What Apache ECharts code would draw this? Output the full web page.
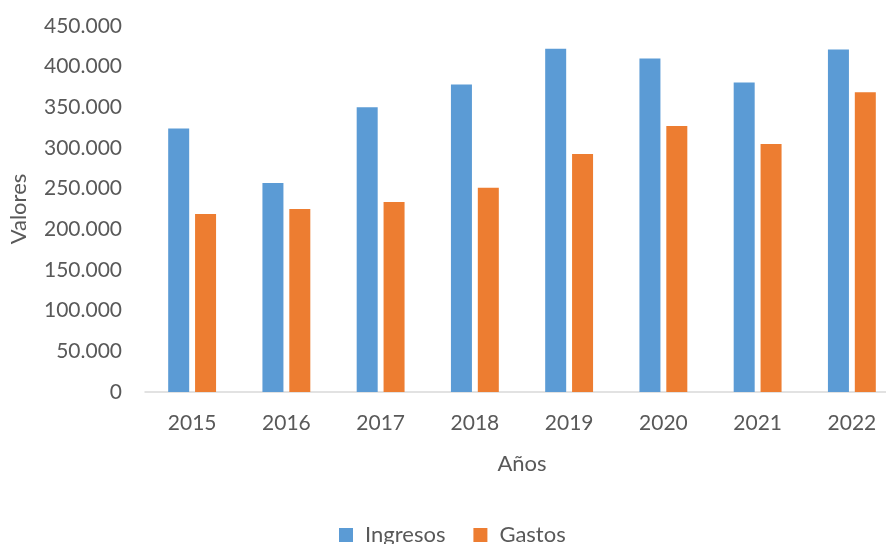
<!DOCTYPE html>
<html>
<head>
<meta charset="utf-8">
<script src="https://cdn.jsdelivr.net/npm/echarts@6/dist/echarts.min.js"></script>
<style>
  html, body { margin: 0; padding: 0; background: #fff; overflow: hidden; }
  /* the plot runs a little past the right edge of the window */
  #chart { width: 900px; height: 544px; }
</style>
</head>
<body>
<div id="chart"></div>
<script>
// Annual income vs. expenses
const years = ['2015', '2016', '2017', '2018', '2019', '2020', '2021', '2022'];
const ingresos = [324000, 257000, 350000, 378000, 422000, 410000, 380500, 421000];
const gastos = [219000, 225000, 233500, 251000, 292500, 327000, 305000, 368500];

const FONT = 'Lato';
const TEXT = '#595959';

function thousands(v) {
  return String(v).replace(/\B(?=(\d{3})+(?!\d))/g, '.');
}

const chart = echarts.init(document.getElementById('chart'), null, { renderer: 'canvas' });
chart.setOption({
  animation: false,
  textStyle: { fontFamily: FONT },
  grid: { left: 145, top: 26, width: 754, height: 366, containLabel: false },
  legend: {
    data: ['Ingresos', 'Gastos'],
    top: 524,
    left: 339,
    padding: 0,
    itemWidth: 14,
    itemHeight: 14,
    itemGap: 28,
    icon: 'rect',
    textStyle: { fontFamily: FONT, fontSize: 22, color: TEXT, padding: [0, 0, 0, 7] }
  },
  xAxis: {
    type: 'category',
    data: years,
    name: 'Años',
    nameLocation: 'middle',
    nameGap: 61,
    nameTextStyle: { fontFamily: FONT, fontSize: 22, color: TEXT },
    axisLine: { lineStyle: { color: '#d9d9d9', width: 1.5 } },
    axisTick: { show: false },
    axisLabel: { fontFamily: FONT, fontSize: 21, color: TEXT, margin: 21 }
  },
  yAxis: {
    type: 'value',
    min: 0,
    max: 450000,
    interval: 50000,
    name: 'Valores',
    nameLocation: 'middle',
    nameGap: 115,
    nameTextStyle: { fontFamily: FONT, fontSize: 22, color: TEXT },
    axisLine: { show: false },
    axisTick: { show: false },
    splitLine: { show: false },
    axisLabel: { fontFamily: FONT, fontSize: 21, color: TEXT, margin: 23, formatter: thousands }
  },
  series: [
    {
      name: 'Ingresos',
      type: 'bar',
      data: ingresos,
      barWidth: 21,
      barGap: '28%',
      itemStyle: { color: '#5B9BD5' }
    },
    {
      name: 'Gastos',
      type: 'bar',
      data: gastos,
      barWidth: 21,
      itemStyle: { color: '#ED7D31' }
    }
  ]
});
</script>
</body>
</html>
